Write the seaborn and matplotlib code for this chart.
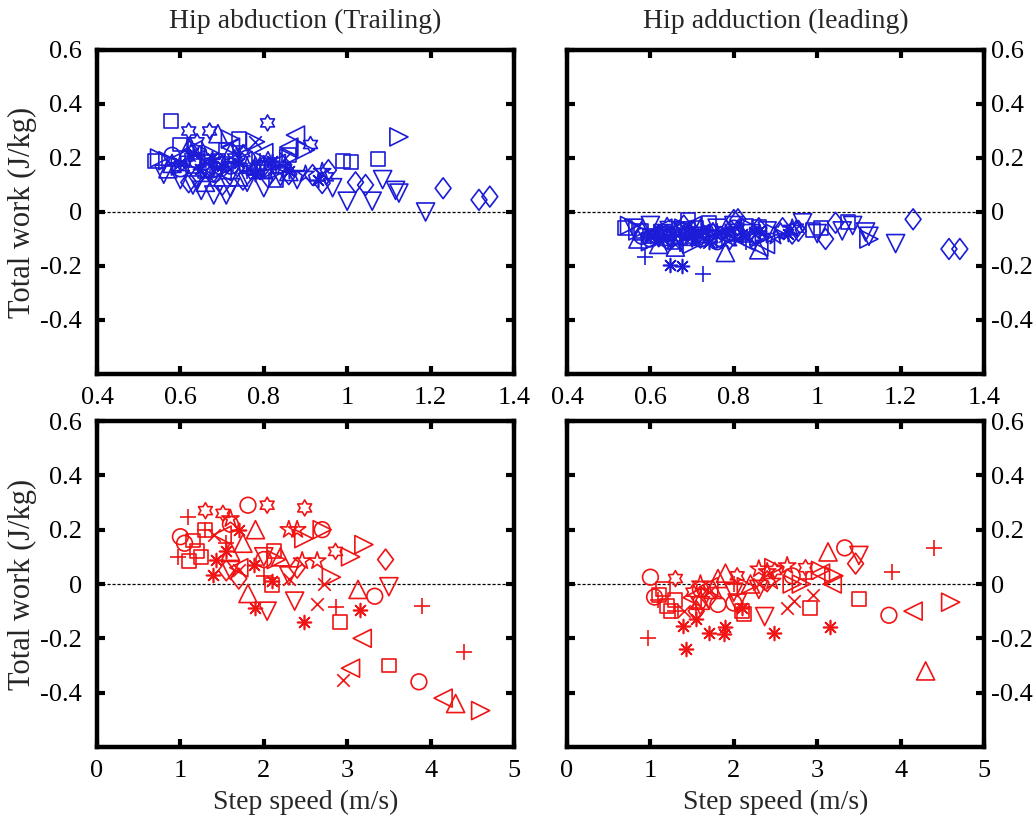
import numpy as np
import pandas as pd
import matplotlib
matplotlib.use("Agg")
import matplotlib.pyplot as plt
from matplotlib.path import Path
from matplotlib.markers import MarkerStyle
import seaborn as sns

# ---------------------------------------------------------------
# Data: one list per subject (marker order given by `subjects`)
# ---------------------------------------------------------------
subjects = ["o", "+", "*", "x", "s", "d", "^", "v", ">", "<", "p", "h"]

# Walking trials (m/s, J/kg)
walk_speed = [
    [0.64, 0.72, 0.80, 0.58, 0.68, 0.76, 0.60],
    [0.588, 0.725, 0.65, 0.70, 0.83, 0.61, 0.76, 0.67, 0.79],
    [0.648, 0.676, 0.63, 0.82, 0.86, 0.70, 0.93, 0.74, 0.78, 0.60],
    [0.62, 0.78, 0.81, 0.68, 0.85, 0.74, 0.66, 0.72],
    [0.578, 0.60, 0.54, 0.69, 0.74, 0.80, 0.86, 0.989, 1.01, 1.073, 0.66, 0.83, 0.63, 0.71],
    [1.23, 1.316, 1.342, 1.02, 1.044, 0.917, 0.94, 0.955, 0.68, 0.75, 0.62, 0.80, 0.81, 0.64, 0.70, 0.86],
    [0.69, 0.62, 0.78, 0.86, 0.58, 0.74, 0.66, 0.72, 0.57, 0.64, 0.81],
    [1.188, 1.0, 1.06, 1.116, 1.124, 1.085, 0.68, 0.71, 0.60, 0.63, 0.76, 0.84, 0.72, 0.965, 0.56, 0.65, 0.80, 0.88],
    [1.124, 0.90, 0.55, 0.57, 0.72, 0.84, 0.64, 0.78, 0.60, 0.68, 0.86, 0.70],
    [0.876, 0.86, 0.80, 0.66, 0.75, 0.60, 0.70, 0.83, 0.63, 0.72, 0.78],
    [0.66, 0.90, 0.76, 0.94],
    [0.809, 0.912, 0.62, 0.70, 0.75, 0.85, 0.95, 0.64, 0.67, 0.73, 0.79],
]
walk_abduction = [
    [0.19, 0.17, 0.16, 0.21, 0.14, 0.20, 0.16],
    [0.17, 0.18, 0.21, 0.16, 0.17, 0.19, 0.15, 0.13, 0.19],
    [0.16, 0.20, 0.22, 0.19, 0.15, 0.17, 0.12, 0.18, 0.14, 0.18],
    [0.21, 0.26, 0.18, 0.15, 0.20, 0.23, 0.19, 0.16],
    [0.337, 0.25, 0.19, 0.19, 0.27, 0.15, 0.21, 0.19, 0.185, 0.196, 0.15, 0.12, 0.17, 0.23],
    [0.088, 0.045, 0.057, 0.11, 0.10, 0.137, 0.107, 0.155, 0.15, 0.12, 0.11, 0.17, 0.13, 0.13, 0.10, 0.14],
    [0.29, 0.24, 0.17, 0.15, 0.18, 0.13, 0.11, 0.22, 0.16, 0.20, 0.19],
    [0.0, 0.04, 0.04, 0.08, 0.07, 0.12, 0.063, 0.063, 0.12, 0.10, 0.11, 0.13, 0.09, 0.09, 0.14, 0.08, 0.09, 0.12],
    [0.278, 0.23, 0.20, 0.19, 0.27, 0.16, 0.23, 0.26, 0.17, 0.21, 0.20, 0.16],
    [0.285, 0.24, 0.22, 0.17, 0.19, 0.20, 0.15, 0.18, 0.23, 0.24, 0.16],
    [0.20, 0.14, 0.17, 0.15],
    [0.33, 0.25, 0.30, 0.18, 0.22, 0.16, 0.13, 0.26, 0.30, 0.20, 0.17],
]
walk_adduction = [
    [-0.08, -0.10, -0.06, -0.09, -0.07, -0.11, -0.10],
    [-0.168, -0.23, -0.09, -0.10, -0.11, -0.08, -0.07, -0.12, -0.06],
    [-0.196, -0.20, -0.10, -0.08, -0.07, -0.09, -0.08, -0.11, -0.07, -0.09],
    [-0.07, -0.09, -0.10, -0.06, -0.08, -0.11, -0.12, -0.08],
    [-0.07, -0.09, -0.06, -0.03, -0.04, -0.08, -0.055, -0.066, -0.06, -0.036, -0.11, -0.05, -0.08, -0.06],
    [-0.027, -0.137, -0.137, -0.10, -0.04, -0.06, -0.08, -0.07, -0.05, -0.08, -0.09, -0.03, -0.027, -0.10, -0.07, -0.06],
    [-0.09, -0.12, -0.15, -0.14, -0.07, -0.08, -0.13, -0.06, -0.10, -0.09, -0.07],
    [-0.117, -0.08, -0.07, -0.074, -0.09, -0.05, -0.07, -0.09, -0.05, -0.08, -0.06, -0.08, -0.10, -0.04, -0.06, -0.10, -0.05, -0.07],
    [-0.10, -0.08, -0.05, -0.07, -0.09, -0.06, -0.08, -0.10, -0.11, -0.06, -0.09, -0.12],
    [-0.12, -0.13, -0.08, -0.07, -0.10, -0.09, -0.05, -0.11, -0.06, -0.08, -0.09],
    [-0.07, -0.09, -0.08, -0.06],
    [-0.06, -0.07, -0.08, -0.10, -0.07, -0.09, -0.06, -0.05, -0.09, -0.08, -0.11],
]

# Running trials (m/s, J/kg)
run_speed = [
    [1.00, 1.05, 1.81, 2.70, 3.33, 3.86, 1.60, 2.00],
    [1.09, 0.97, 1.55, 2.86, 3.90, 4.40, 2.00, 1.30],
    [1.39, 1.89, 2.48, 3.15, 1.43, 1.70, 1.88, 2.10, 1.55],
    [2.64, 2.95, 1.70, 1.40, 2.30, 2.72],
    [1.15, 1.20, 1.25, 1.30, 2.10, 2.12, 2.91, 3.50, 1.10],
    [3.46, 1.70, 1.55, 2.40],
    [1.81, 3.13, 4.30, 1.75, 1.90, 2.20, 1.60],
    [2.04, 2.37, 3.50, 2.30, 1.60, 2.00],
    [3.20, 3.04, 2.81, 2.48, 2.15, 4.60, 2.70],
    [3.18, 3.04, 4.15, 1.50, 1.70],
    [2.30, 2.40, 2.46, 2.64, 1.60],
    [1.30, 1.51, 2.04, 2.49, 2.86],
]
run_abduction = [
    [0.174, 0.15, 0.29, 0.20, -0.045, -0.36, 0.22, 0.09],
    [0.245, 0.10, 0.15, -0.085, -0.08, -0.252, 0.03, 0.20],
    [0.033, -0.09, -0.14, -0.095, 0.09, 0.20, 0.07, 0.01, 0.12],
    [-0.075, -0.355, 0.05, 0.18, 0.02, 0.0],
    [0.16, 0.12, 0.10, 0.20, -0.005, 0.12, -0.14, -0.30, 0.085],
    [0.09, 0.02, 0.05, 0.06],
    [-0.035, -0.02, -0.44, 0.15, 0.20, 0.10, 0.12],
    [-0.10, -0.063, -0.01, 0.03, 0.05, 0.10],
    [0.145, 0.10, 0.025, 0.167, 0.09, -0.466, 0.20],
    [-0.20, -0.31, -0.42, 0.18, 0.06],
    [0.20, 0.20, 0.085, 0.085, 0.24],
    [0.27, 0.26, 0.29, 0.28, 0.12],
]
run_adduction = [
    [0.025, -0.048, -0.075, 0.03, 0.133, -0.115, -0.02, -0.07],
    [-0.06, -0.197, -0.09, 0.02, 0.045, 0.133, 0.0, -0.10],
    [-0.155, -0.16, -0.18, -0.16, -0.24, -0.18, -0.185, -0.09, -0.13],
    [-0.087, -0.04, -0.03, -0.10, 0.0, -0.063],
    [-0.02, -0.08, -0.10, -0.06, -0.10, -0.11, -0.087, -0.055, -0.04],
    [0.075, -0.05, -0.10, 0.01],
    [0.02, 0.118, -0.32, -0.02, 0.04, 0.0, -0.06],
    [-0.07, -0.12, 0.105, -0.02, -0.08, -0.03],
    [0.03, 0.05, 0.0, 0.06, -0.01, -0.067, 0.0],
    [0.0, 0.04, -0.10, -0.05, -0.01],
    [0.055, 0.045, 0.01, 0.067, 0.0],
    [0.02, -0.03, 0.03, 0.05, 0.06],
]

walk_ticks = [0.4, 0.6, 0.8, 1.0, 1.2, 1.4]
walk_ticklabels = ["0.4", "0.6", "0.8", "1", "1.2", "1.4"]
run_ticks = [0, 1, 2, 3, 4, 5]
run_ticklabels = ["0", "1", "2", "3", "4", "5"]
work_ticks = [-0.4, -0.2, 0, 0.2, 0.4, 0.6]
work_ticklabels = ["-0.4", "-0.2", "0", "0.2", "0.4", "0.6"]

# ---------------------------------------------------------------
# Styling
# ---------------------------------------------------------------
sns.set_theme(style="ticks")
plt.rcParams["font.family"] = ["Liberation Serif", "DejaVu Serif"]
plt.rcParams["axes.unicode_minus"] = False

# six-pointed star outline
_ang = np.deg2rad(90 + np.arange(12) * 30)
_rad = np.where(np.arange(12) % 2 == 0, 1.0, 1 / np.sqrt(3))
_verts = np.column_stack([_rad * np.cos(_ang), _rad * np.sin(_ang)])
_verts = np.vstack([_verts, _verts[0]])
hexagram = Path(_verts, [Path.MOVETO] + [Path.LINETO] * 11 + [Path.CLOSEPOLY])

# diamond a little narrower than tall
diamond = Path([(0, 1), (0.76, 0), (0, -1), (-0.76, 0), (0, 1)],
               [Path.MOVETO, Path.LINETO, Path.LINETO, Path.LINETO, Path.CLOSEPOLY])

marker_styles = {
    "o": ("o", 11.3), "+": ("+", 11.3), "*": ((8, 2, 0), 10), "x": ("x", 9),
    "s": ("s", 10), "d": (diamond, 15), "^": ("^", 13), "v": ("v", 13),
    ">": (">", 13), "<": ("<", 13), "p": ("*", 13), "h": (hexagram, 11.5),
}

BLUE = "#1c1cd8"
RED = "#f01414"


def draw(ax, speeds, works, color):
    for key, xs, ys in zip(subjects, speeds, works):
        marker, ms = marker_styles[key]
        df = pd.DataFrame({"speed": xs, "work": ys})
        if MarkerStyle(marker).is_filled():
            sns.scatterplot(data=df, x="speed", y="work", ax=ax, marker=marker,
                            s=ms ** 2, color=color, facecolor="none",
                            edgecolor=color, linewidth=1.2, legend=False, zorder=3)
        else:
            sns.scatterplot(data=df, x="speed", y="work", ax=ax, marker=marker,
                            s=ms ** 2, color=color, linewidth=1.2,
                            legend=False, zorder=3)


fig = plt.figure(figsize=(10.36, 8.21), dpi=100)
W = 417 / 1036
ax_tl = fig.add_axes([97 / 1036, 1 - 374 / 821, W, 324 / 821])
ax_tr = fig.add_axes([567 / 1036, 1 - 374 / 821, W, 324 / 821])
ax_bl = fig.add_axes([97 / 1036, 1 - 747 / 821, W, 326 / 821])
ax_br = fig.add_axes([567 / 1036, 1 - 747 / 821, W, 326 / 821])

draw(ax_tl, walk_speed, walk_abduction, BLUE)
draw(ax_tr, walk_speed, walk_adduction, BLUE)
draw(ax_bl, run_speed, run_abduction, RED)
draw(ax_br, run_speed, run_adduction, RED)

for ax in (ax_tl, ax_tr, ax_bl, ax_br):
    ax.axhline(0, color="black", lw=0.9, ls=(0, (2.5, 1.5)), zorder=1)
    ax.set_ylim(-0.6, 0.6)
    ax.set_yticks(work_ticks)
    ax.set_yticklabels(work_ticklabels)
    for sp in ax.spines.values():
        sp.set_linewidth(3.2)
        sp.set_color("black")
    ax.tick_params(direction="in", length=6, width=3, top=True, right=True,
                   labelsize=19, colors="black")
    ax.tick_params(axis="x", pad=9)
    ax.set_xlabel("")
    ax.set_ylabel("")

for ax in (ax_tl, ax_tr):
    ax.set_xlim(0.4, 1.4)
    ax.set_xticks(walk_ticks)
    ax.set_xticklabels(walk_ticklabels)
for ax in (ax_bl, ax_br):
    ax.set_xlim(0, 5)
    ax.set_xticks(run_ticks)
    ax.set_xticklabels(run_ticklabels)
    ax.set_xlabel("Step speed (m/s)", fontsize=20, labelpad=6)

for ax in (ax_tr, ax_br):
    ax.tick_params(axis="y", labelleft=False, labelright=True, pad=5)
for ax in (ax_tl, ax_bl):
    ax.tick_params(axis="y", pad=11)
    ax.set_ylabel("Total work (J/kg)", fontsize=22, labelpad=2)

ax_tl.set_title("Hip abduction (Trailing)", fontsize=20, pad=16)
ax_tr.set_title("Hip adduction (leading)", fontsize=20, pad=16)

fig.savefig("out.png", dpi=100)
